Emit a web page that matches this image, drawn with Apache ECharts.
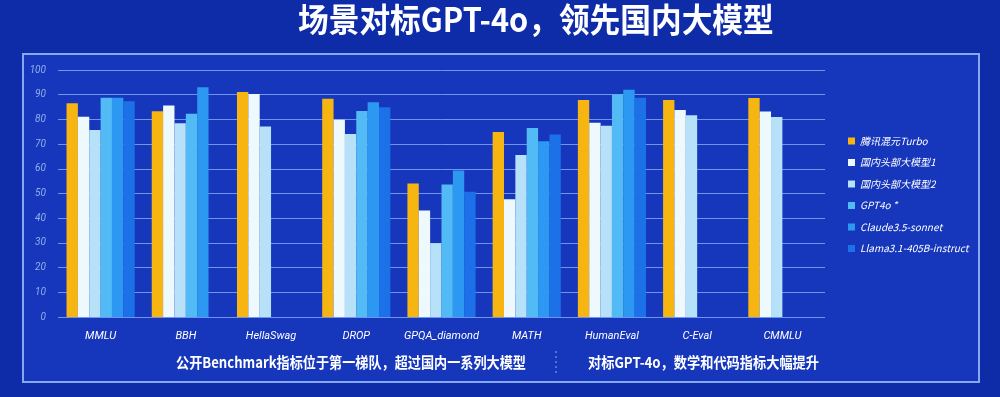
<!DOCTYPE html>
<html>
<head>
<meta charset="utf-8">
<script src="https://cdn.jsdelivr.net/npm/echarts@6/dist/echarts.min.js"></script>
<style>
html,body{margin:0;padding:0;background:#0e2ba8;}
#main{width:1000px;height:397px;}
</style>
</head>
<body>
<div id="main"></div>
<script>
var categories = ['MMLU', 'BBH', 'HellaSwag', 'DROP', 'GPQA_diamond', 'MATH', 'HumanEval', 'C-Eval', 'CMMLU'];
var seriesNames = ['腾讯混元Turbo', '国内头部大模型1', '国内头部大模型2', 'GPT4o *', 'Claude3.5-sonnet', 'Llama3.1-405B-instruct'];
var hunyuan = [86.5, 83.3, 91.1, 88.4, 54.0, 74.9, 87.9, 87.9, 88.7];
var domestic1 = [81.1, 85.6, 90.3, 79.9, 43.1, 47.7, 78.6, 83.8, 83.2];
var domestic2 = [75.7, 78.4, 77.1, 74.1, 29.9, 65.6, 77.4, 81.7, 81.0];
var gpt4o = [88.8, 82.3, null, 83.4, 53.6, 76.5, 90.2, null, null];
var claude = [88.8, 93.0, null, 86.9, 59.3, 71.2, 92.0, null, null];
var llama = [87.3, null, null, 84.9, 50.7, 73.9, 88.8, null, null];
var yTicks = [0, 10, 20, 30, 40, 50, 60, 70, 80, 90, 100];

var colors = ['#f6b511', '#eef9fd', '#b6e1f8', '#52bbf6', '#2d98f1', '#1c70e8'];
var allData = [hunyuan, domestic1, domestic2, gpt4o, claude, llama];

var series = [];
for (var i = 0; i < seriesNames.length; i++) {
    series.push({
        name: seriesNames[i],
        type: 'bar',
        data: allData[i],
        barGap: 0,
        barCategoryGap: '20%',
        itemStyle: {color: colors[i]}
    });
}

var myChart = echarts.init(document.getElementById('main'));
var option = {
    backgroundColor: '#0e2ba8',
    animation: false,
    color: colors,
    grid: {left: 58, right: 175, top: 70, bottom: 80},
    legend: {
        orient: 'vertical',
        left: 843,
        top: 131,
        itemWidth: 7,
        itemHeight: 7,
        itemGap: 11.5,
        icon: 'rect',
        data: seriesNames,
        textStyle: {color: '#ffffff', fontSize: 10, fontStyle: 'italic', fontFamily: 'Noto Sans CJK SC'}
    },
    xAxis: {
        type: 'category',
        data: categories,
        axisLine: {show: false},
        axisTick: {show: false},
        axisLabel: {interval: 0, color: '#ffffff', fontSize: 11, fontStyle: 'italic', margin: 14, fontFamily: 'Roboto'}
    },
    yAxis: {
        type: 'value',
        min: yTicks[0],
        max: yTicks[yTicks.length - 1],
        interval: 10,
        axisLine: {show: false},
        axisTick: {show: false},
        axisLabel: {color: '#8fb0ea', fontSize: 10, fontStyle: 'italic', margin: 12, fontFamily: 'Roboto'},
        splitLine: {lineStyle: {color: '#6f95f0', width: 1}}
    },
    graphic: [
        {
            type: 'rect', z: -10,
            shape: {x: 23, y: 54, width: 956, height: 328},
            style: {fill: '#1636bc', stroke: '#86a8f2', lineWidth: 2}
        },
        {
            type: 'line', z: 5,
            shape: {x1: 556, y1: 351, x2: 556, y2: 376},
            style: {stroke: '#8fb0ea', lineWidth: 1, lineDash: [2, 3]}
        },
        {
            type: 'text', x: 298, y: 3, z: 5, scaleX: 0.93,
            style: {text: '场景对标GPT-4o，领先国内大模型', fill: '#ffffff', font: 'bold 33px "Noto Sans CJK SC"'}
        },
        {
            type: 'text', x: 176, y: 355, z: 5, scaleX: 0.875,
            style: {text: '公开Benchmark指标位于第一梯队，超过国内一系列大模型', fill: '#ffffff', font: 'bold 15px "Noto Sans CJK SC"'}
        },
        {
            type: 'text', x: 588, y: 355, z: 5, scaleX: 0.88,
            style: {text: '对标GPT-4o，数学和代码指标大幅提升', fill: '#ffffff', font: 'bold 15px "Noto Sans CJK SC"'}
        }
    ],
    series: series
};
myChart.setOption(option);
</script>
</body>
</html>
